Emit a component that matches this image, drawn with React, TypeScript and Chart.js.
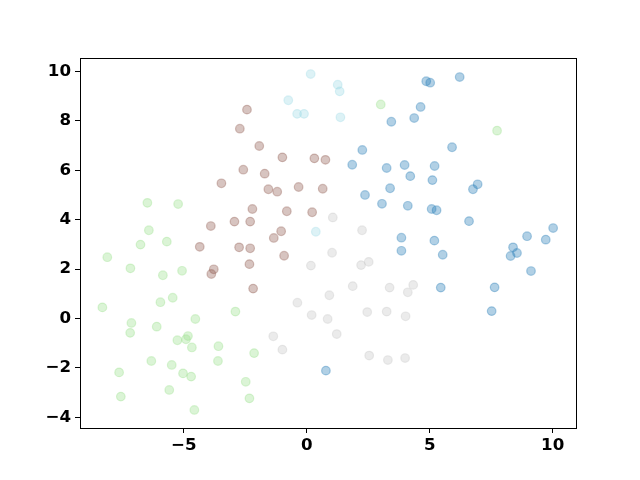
import React, { useEffect, useRef } from "react";
import { Chart, registerables } from "chart.js";

Chart.register(...registerables);

// Cluster data (x, y)
const blueX = [4.86, 5.02, 6.22, 4.63, 3.44, 4.37, 5.91, 2.26, 1.85, 3.25, 3.98, 5.2, 4.21, 5.11, 6.95, 6.76, 2.37, 3.39, 3.06, 4.11, 5.08, 5.28, 6.6, 10.02, 8.96, 9.72, 3.85, 5.19, 3.85, 5.53, 8.39, 8.29, 8.55, 9.12, 5.45, 7.64, 7.52, 0.78];
const blueY = [9.6, 9.54, 9.77, 8.56, 7.96, 8.11, 6.93, 6.82, 6.22, 6.09, 6.21, 6.17, 5.76, 5.6, 5.43, 5.23, 5.0, 5.27, 4.64, 4.56, 4.43, 4.38, 3.94, 3.66, 3.33, 3.19, 3.27, 3.15, 2.74, 2.58, 2.88, 2.53, 2.65, 1.92, 1.25, 1.26, 0.3, -2.11];

const brownX = [-2.43, -2.72, -1.93, -0.99, 0.31, 0.76, -2.58, -1.71, -3.47, -1.56, -1.2, -0.33, 0.65, -2.21, -0.81, 0.22, -3.9, -2.94, -2.3, -1.04, -1.34, -4.35, -2.75, -2.3, -0.92, -2.33, -3.78, -3.88, -2.18];
const brownY = [8.45, 7.68, 6.98, 6.52, 6.48, 6.42, 6.02, 5.86, 5.47, 5.23, 5.13, 5.32, 5.25, 4.43, 4.34, 4.3, 3.74, 3.92, 3.92, 3.53, 3.26, 2.9, 2.88, 2.84, 2.54, 2.2, 1.99, 1.8, 1.21];

const greenX = [-6.48, -5.23, -6.42, -5.69, -6.76, -8.11, -7.17, -5.85, -5.07, -8.31, -5.95, -5.45, -2.9, -4.53, -7.13, -7.18, -6.1, -5.26, -4.91, -4.83, -4.67, -3.59, -2.14, -6.32, -5.49, -3.61, -7.63, -5.03, -4.7, -2.48, -7.56, -5.59, -2.33, -4.57, 3.01, 7.74];
const greenY = [4.68, 4.63, 3.57, 3.11, 2.99, 2.48, 2.03, 1.75, 1.93, 0.45, 0.66, 0.84, 0.28, -0.02, -0.18, -0.58, -0.33, -0.88, -0.84, -0.71, -1.17, -1.12, -1.4, -1.72, -1.88, -1.72, -2.18, -2.22, -2.35, -2.56, -3.16, -2.89, -3.23, -3.7, 8.66, 7.6];

const grayX = [1.06, 2.25, 1.03, 0.17, 2.21, 2.52, 1.87, 3.37, 4.33, 4.11, -0.38, 0.92, 0.2, 0.85, 2.46, 3.25, 4.02, 1.22, -1.36, -0.99, 2.54, 3.3, 4.0];
const grayY = [4.09, 3.57, 2.66, 2.14, 2.16, 2.29, 1.31, 1.25, 1.36, 1.06, 0.64, 0.94, 0.14, -0.02, 0.26, 0.28, 0.09, -0.63, -0.72, -1.26, -1.5, -1.68, -1.6];

const cyanX = [0.16, -0.75, -0.39, -0.11, 0.37, 1.26, 1.34, 1.37];
const cyanY = [9.89, 8.83, 8.28, 8.28, 3.51, 9.46, 9.19, 8.14];

const xTicks = [-5, 0, 5, 10];
const yTicks = [-4, -2, 0, 2, 4, 6, 8, 10];

const pts = (xs: number[], ys: number[]) => xs.map((x, i) => ({ x, y: ys[i] }));

const ALPHA = 0.35;
const rgba = (r: number, g: number, b: number) => `rgba(${r},${g},${b},${ALPHA})`;

const fmt = (v: number) => (v < 0 ? "\u2212" + Math.abs(v) : String(v));

const FONT = { family: "'DejaVu Sans'", size: 16.67, weight: "bold" };

export default function App() {
  const ref = useRef<HTMLCanvasElement | null>(null);
  useEffect(() => {
    if (!ref.current) return;
    const mk = (label: string, xs: number[], ys: number[], c: string) => ({
      label,
      data: pts(xs, ys),
      backgroundColor: c,
      borderColor: c,
      pointRadius: 4.3,
      pointHoverRadius: 4.3,
      pointBorderWidth: 1.2,
    });
    const frame = {
      id: "frame",
      afterDraw(chart: any) {
        const { ctx, chartArea: a } = chart;
        ctx.save();
        ctx.strokeStyle = "#000";
        ctx.lineWidth = 1;
        ctx.strokeRect(Math.round(a.left) + 0.5, Math.round(a.top) + 0.5, Math.round(a.right - a.left), Math.round(a.bottom - a.top));
        ctx.restore();
      },
    };
    const chart = new Chart(ref.current, {
      type: "scatter",
      data: {
        datasets: [
          mk("blue", blueX, blueY, rgba(31, 119, 180)),
          mk("brown", brownX, brownY, rgba(140, 86, 75)),
          mk("green", greenX, greenY, rgba(152, 223, 138)),
          mk("gray", grayX, grayY, rgba(199, 199, 199)),
          mk("cyan", cyanX, cyanY, rgba(158, 218, 229)),
        ],
      },
      options: {
        animation: false,
        responsive: false,
        devicePixelRatio: 1,
        layout: { padding: { top: 58, right: 64, left: 0, bottom: 0 } },
        plugins: { legend: { display: false }, tooltip: { enabled: false } },
        scales: {
          x: {
            type: "linear",
            min: -9.22,
            max: 10.95,
            afterBuildTicks: (s: any) => {
              s.ticks = xTicks.map((v) => ({ value: v }));
            },
            afterFit: (s: any) => {
              s.height = 52;
            },
            grid: { drawOnChartArea: false, drawTicks: true, tickLength: 5, tickWidth: 1, tickColor: "#000" },
            border: { display: false },
            ticks: {
              color: "#000",
              padding: 3,
              maxRotation: 0,
              font: FONT,
              callback: (v: any) => fmt(Number(v)),
            },
          },
          y: {
            type: "linear",
            min: -4.43,
            max: 10.54,
            afterBuildTicks: (s: any) => {
              s.ticks = yTicks.map((v) => ({ value: v }));
            },
            afterFit: (s: any) => {
              s.width = 80;
            },
            grid: { drawOnChartArea: false, drawTicks: true, tickLength: 5, tickWidth: 1, tickColor: "#000" },
            border: { display: false },
            ticks: {
              color: "#000",
              padding: 4,
              font: FONT,
              callback: (v: any) => fmt(Number(v)),
            },
          },
        },
      },
      plugins: [frame],
    } as any);
    return () => chart.destroy();
  }, []);
  return (
    <div style={{ position: "fixed", left: 0, top: 0, width: 640, height: 480, background: "#fff" }}>
      <canvas ref={ref} width={640} height={480} style={{ width: 640, height: 480 }} />
    </div>
  );
}
